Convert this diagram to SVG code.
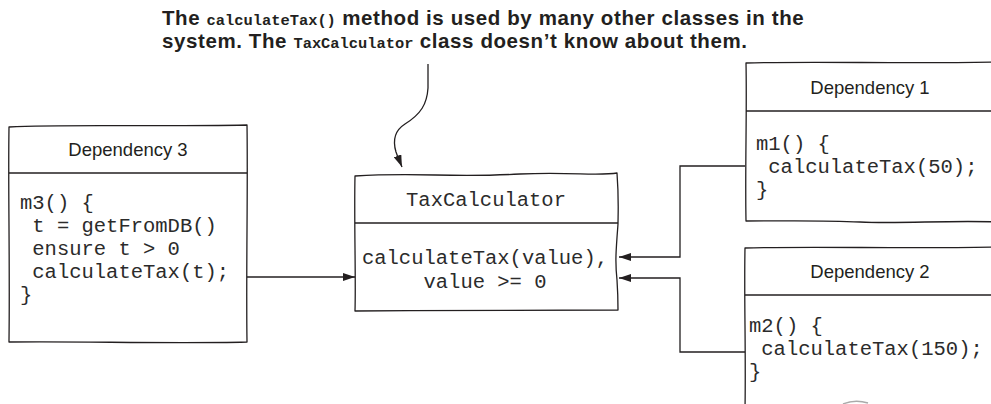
<svg xmlns="http://www.w3.org/2000/svg" width="991" height="404" viewBox="0 0 991 404">
<style>
.box{fill:#fff;stroke:#231f20;stroke-width:1.3;stroke-linejoin:round}
.div{fill:none;stroke:#231f20;stroke-width:1.3}
.hdr{font-family:"Liberation Sans",Arial,sans-serif;font-size:18.5px;fill:#231f20;text-anchor:middle}
.code{font-family:"Liberation Mono","Courier New",monospace;font-size:20.5px;fill:#2b2b2b;white-space:pre}
.conn{fill:none;stroke:#231f20;stroke-width:1.3}
.title{font-family:"Liberation Sans",Arial,sans-serif;font-weight:700;font-size:20.5px;letter-spacing:0.6px;fill:#231f20}
.tm{font-family:"Liberation Mono","Courier New",monospace;font-weight:700;font-size:15.4px;letter-spacing:0}
</style>
<defs>
<marker id="ah" viewBox="0 0 12 8" refX="12" refY="4" markerWidth="12" markerHeight="8" orient="auto" markerUnits="userSpaceOnUse">
<path d="M0,0 L12,4 L0,8 z" fill="#231f20"/>
</marker>
</defs>
<rect width="991" height="404" fill="#fff"/>

<g id="annotation">
<text class="title" x="162" y="25">The <tspan class="tm">calculateTax()</tspan> method is used by many other classes in the</text>
<text class="title" x="162" y="48">system. The <tspan class="tm">TaxCalculator</tspan> class doesn’t know about them.</text>
</g>

<g id="connectors">
<path class="conn" d="M428,64 L428,88 C427,104 421,114 405,124 C394,131 393,142 396,152 C398,158 400,162 402,167" marker-end="url(#ah)"/>
<path class="conn" d="M247,277 H355" marker-end="url(#ah)"/>
<path class="conn" d="M745,166 H680 V257 H619" marker-end="url(#ah)"/>
<path class="conn" d="M745,352 H680 V278 H619" marker-end="url(#ah)"/>
</g>

<g id="dependency3">
<path class="box" d="M9,127 C70,124 150,127 247,125 C248,190 246,270 247,342 C170,344 80,341 9,342 C10,260 8,190 9,127 Z"/>
<path class="div" d="M9,173 H247"/>
<text class="hdr" x="128" y="156">Dependency 3</text>
<text class="code" x="20" y="209">m3() {</text>
<text class="code" x="20" y="232"> t = getFromDB()</text>
<text class="code" x="20" y="255"> ensure t &gt; 0</text>
<text class="code" x="20" y="278"> calculateTax(t);</text>
<text class="code" x="20" y="301">}</text>
</g>

<g id="taxcalculator">
<path class="box" d="M355,176 C420,172 450,178 520,174 C570,172 600,176 617,173 C619,200 618,215 618,224 C616,250 615,262 617,280 C618,295 618,303 618,310 C520,311 440,310 355,311 C356,280 354,220 355,176 Z"/>
<path class="div" d="M355,223 H618"/>
<text class="code" x="486" y="206" text-anchor="middle">TaxCalculator</text>
<text class="code" x="485" y="264" text-anchor="middle">calculateTax(value),</text>
<text class="code" x="485" y="288" text-anchor="middle">value &gt;= 0</text>
</g>

<g id="dependency1">
<path class="box" d="M746,63 C820,61 900,64 998,62 L998,222 C950,220 900,224 860,222 C820,220 780,221 746,221 C745,170 747,110 746,63 Z"/>
<path class="div" d="M746,111 H998"/>
<text class="hdr" x="870" y="94">Dependency 1</text>
<text class="code" x="756" y="150">m1() {</text>
<text class="code" x="756" y="173"> calculateTax(50);</text>
<text class="code" x="756" y="196">}</text>
</g>

<g id="dependency2">
<path class="box" d="M745,248 C820,246 900,249 998,247 L998,410 L745,410 C746,350 744,300 745,248 Z"/>
<path class="div" d="M745,295 H998"/>
<text class="hdr" x="870" y="278">Dependency 2</text>
<text class="code" x="749" y="332">m2() {</text>
<text class="code" x="749" y="355"> calculateTax(150);</text>
<text class="code" x="749" y="378">}</text>
<path d="M843,404 Q855,399 868,403" fill="none" stroke="#aaa" stroke-width="1.5"/>
</g>
</svg>
